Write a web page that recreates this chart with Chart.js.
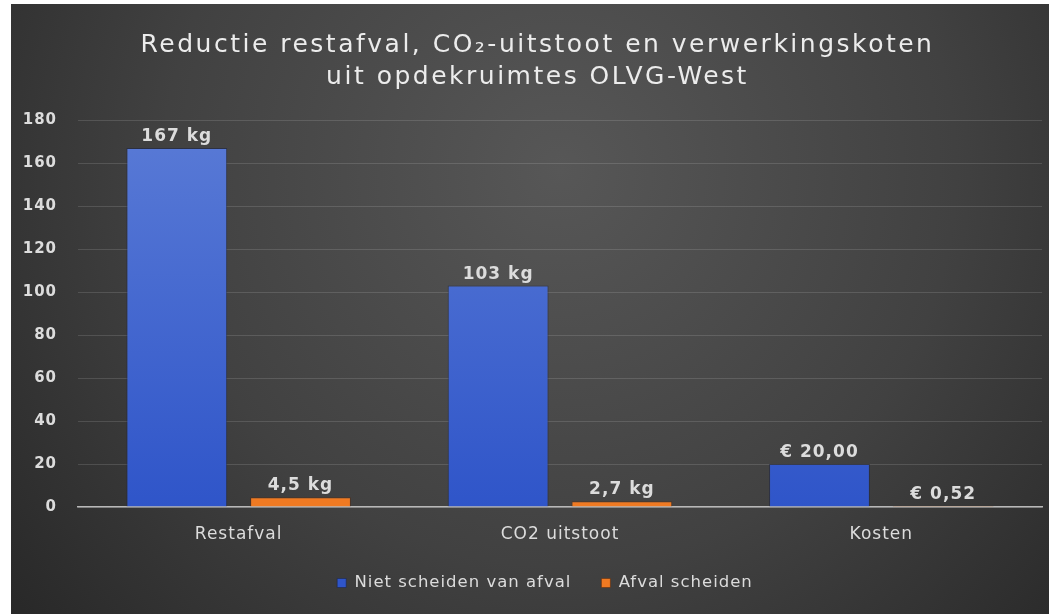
<!DOCTYPE html>
<html>
<head>
<meta charset="utf-8">
<script src="https://cdn.jsdelivr.net/npm/chart.js@4.4.1/dist/chart.umd.min.js"></script>
<style>
  html, body { margin: 0; padding: 0; background: #fff; }
  #wrap { width: 1049px; height: 614px; }
</style>
</head>
<body>
<div id="wrap"><canvas id="chart1" width="1049" height="614"></canvas></div>
<script>
// chart data
var categories = ["Restafval", "CO2 uitstoot", "Kosten"]
var nietScheiden = [167, 103, 20]
var afvalScheiden = [4.5, 2.7, 0.52]
var nietLabels = ["167 kg", "103 kg", "€ 20,00"]
var afvalLabels = ["4,5 kg", "2,7 kg", "€ 0,52"]
var seriesNames = ["Niet scheiden van afval", "Afval scheiden"]
var titleLines = ["Reductie restafval, CO\u2082-uitstoot en verwerkingskoten", "uit opdekruimtes OLVG-West"]

var textColor = "#dcdcdc"

// dark slide background with the white strip on the left
var bgPlugin = {
    id: "bg",
    beforeDraw: function (chart) {
        var ctx = chart.ctx
        ctx.save()
        ctx.fillStyle = "#ffffff"
        ctx.fillRect(0, 0, chart.width, chart.height)
        var g = ctx.createRadialGradient(560, 170, 0, 560, 170, 720)
        g.addColorStop(0, "#575757")
        g.addColorStop(0.55, "#414141")
        g.addColorStop(1, "#272727")
        ctx.fillStyle = g
        ctx.fillRect(11, 4, chart.width - 11, chart.height - 4)
        ctx.restore()
        // the slide text is a bit spread out
        ctx.letterSpacing = "1px"
    }
}

// value labels above the bars
var valueLabels = {
    id: "valueLabels",
    afterDatasetsDraw: function (chart) {
        var ctx = chart.ctx
        var texts = [nietLabels, afvalLabels]
        ctx.save()
        ctx.font = "bold 17px 'DejaVu Sans'"
        ctx.fillStyle = textColor
        ctx.textAlign = "center"
        ctx.textBaseline = "alphabetic"
        chart.data.datasets.forEach(function (ds, i) {
            var meta = chart.getDatasetMeta(i)
            meta.data.forEach(function (bar, j) {
                ctx.fillText(texts[i][j], bar.x, bar.y - 7)
            })
        })
        ctx.restore()
    }
}

function blueFill(context) {
    var area = context.chart.chartArea
    if (!area) return "#4a6ad0"
    var g = context.chart.ctx.createLinearGradient(0, area.top, 0, area.bottom)
    g.addColorStop(0, "#5a7bd6")
    g.addColorStop(1, "#2f55c9")
    return g
}

var ctx1 = document.getElementById("chart1")
const myChart = new Chart(ctx1, {
    type: "bar",
    data: {
        labels: categories,
        datasets: [{
            label: seriesNames[0],
            data: nietScheiden,
            backgroundColor: blueFill,
            borderColor: "rgba(25,35,70,0.55)",
            borderWidth: 1,
            barPercentage: 0.815,
            categoryPercentage: 0.77
        }, {
            label: seriesNames[1],
            data: afvalScheiden,
            backgroundColor: "#f07a22",
            borderColor: "rgba(90,40,10,0.5)",
            borderWidth: 1,
            barPercentage: 0.815,
            categoryPercentage: 0.77
        }]
    },
    options: {
        responsive: false,
        animation: false,
        layout: {
            padding: { left: 11, right: 7, top: 0, bottom: 12.75 }
        },
        scales: {
            x: {
                grid: { display: false, drawTicks: false },
                border: { display: true, color: "#b8b8b8", width: 1.5 },
                ticks: {
                    color: textColor,
                    padding: 17,
                    font: { family: "'DejaVu Sans'", size: 17 }
                },
                afterFit: function (scale) { scale.height = 37.75 }
            },
            y: {
                min: 0,
                max: 180,
                ticks: {
                    stepSize: 20,
                    color: textColor,
                    padding: 21,
                    font: { family: "'DejaVu Sans'", size: 15, weight: "bold" }
                },
                grid: { color: "rgba(255,255,255,0.13)", lineWidth: 1, drawTicks: false },
                border: { display: false },
                afterFit: function (scale) { scale.width = 67 }
            }
        },
        plugins: {
            title: {
                display: true,
                text: titleLines,
                color: "#ececec",
                font: { family: "'DejaVu Sans'", size: 25, weight: "normal", lineHeight: 1.28 },
                padding: { top: 29, bottom: 27 }
            },
            legend: {
                position: "bottom",
                labels: {
                    color: textColor,
                    boxWidth: 9,
                    boxHeight: 9,
                    padding: 30,
                    font: { family: "'DejaVu Sans'", size: 16.5 }
                }
            },
            tooltip: { enabled: false }
        }
    },
    plugins: [bgPlugin, valueLabels]
})

// wider letter spacing for the title only, and a little to the right like the slide
var titleBox = myChart.titleBlock
var titleDraw = titleBox.draw.bind(titleBox)
titleBox.draw = function (area) {
    var c = myChart.ctx
    c.save()
    c.letterSpacing = "2.5px"
    c.translate(11, 0)
    titleDraw(area)
    c.restore()
}
myChart.draw()
</script>
</body>
</html>
